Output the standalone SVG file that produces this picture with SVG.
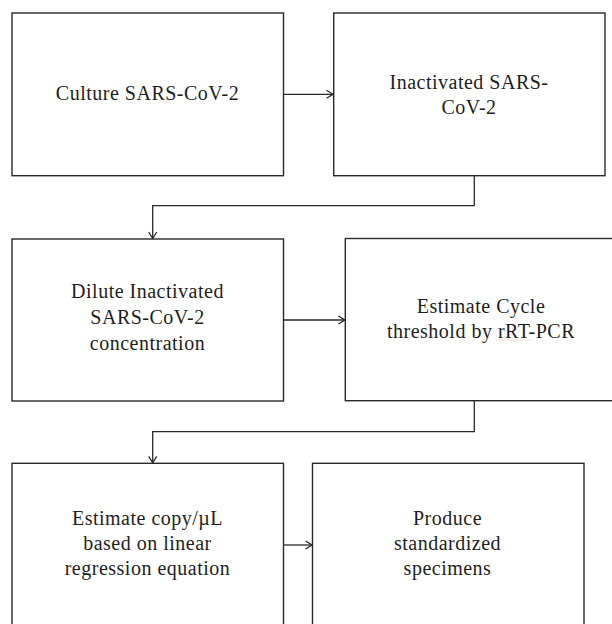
<svg xmlns="http://www.w3.org/2000/svg" width="612" height="624" viewBox="0 0 612 624">
<defs>
<style>
.box{fill:#fff;stroke:#2a2a2a;stroke-width:1.4}
.lbl{font-family:"Liberation Serif","Times New Roman",serif;font-size:20px;letter-spacing:0.5px;fill:#1e1e1e;text-anchor:middle}
.conn{fill:none;stroke:#2a2a2a;stroke-width:1.3}
</style>
<marker id="arr" viewBox="0 0 10 10" refX="9.5" refY="5" markerWidth="10" markerHeight="10" markerUnits="userSpaceOnUse" orient="auto">
<path d="M3,1 L9.5,5 L3,9" fill="none" stroke="#2a2a2a" stroke-width="1.3"/>
</marker>
</defs>
<rect width="612" height="624" fill="#fff"/>
<g id="n1"><rect class="box" x="12" y="13" width="271.5" height="162.7"/>
<text class="lbl" x="147.5" y="100">Culture SARS-CoV-2</text></g>
<g id="n2"><rect class="box" x="333.7" y="13" width="271.3" height="162.7"/>
<text class="lbl" x="469" y="89">Inactivated SARS-</text>
<text class="lbl" x="469" y="114">CoV-2</text></g>
<g id="n3"><rect class="box" x="12" y="239" width="271.5" height="162"/>
<text class="lbl" x="147.5" y="298.3">Dilute Inactivated</text>
<text class="lbl" x="147.5" y="324">SARS-CoV-2</text>
<text class="lbl" x="147.5" y="350">concentration</text></g>
<g id="n4"><rect class="box" x="345.3" y="238.5" width="300" height="162.2"/>
<text class="lbl" x="481" y="312.7">Estimate Cycle</text>
<text class="lbl" x="481" y="337.7">threshold by rRT-PCR</text>
<line x1="496" y1="340" x2="532" y2="340" stroke="#f4caca" stroke-width="0.7"/></g>
<g id="n5"><rect class="box" x="12" y="463.3" width="271.5" height="200"/>
<text class="lbl" x="147.5" y="525">Estimate copy/µL</text>
<text class="lbl" x="147.5" y="550">based on linear</text>
<text class="lbl" x="147.5" y="575">regression equation</text></g>
<g id="n6"><rect class="box" x="312.5" y="463.3" width="271.5" height="200"/>
<text class="lbl" x="447.5" y="525">Produce</text>
<text class="lbl" x="447.5" y="550">standardized</text>
<text class="lbl" x="447.5" y="575">specimens</text></g>
<g id="connectors">
<path class="conn" d="M283.5,94.3 H333" marker-end="url(#arr)"/>
<path class="conn" d="M474.3,175.7 V205.7 H152.7 V238.5" marker-end="url(#arr)"/>
<path class="conn" d="M283.5,320 H344.8" marker-end="url(#arr)"/>
<path class="conn" d="M474.3,400.7 V431.7 H152.7 V462.8" marker-end="url(#arr)"/>
<path class="conn" d="M283.5,545 H312" marker-end="url(#arr)"/>
</g>
</svg>
